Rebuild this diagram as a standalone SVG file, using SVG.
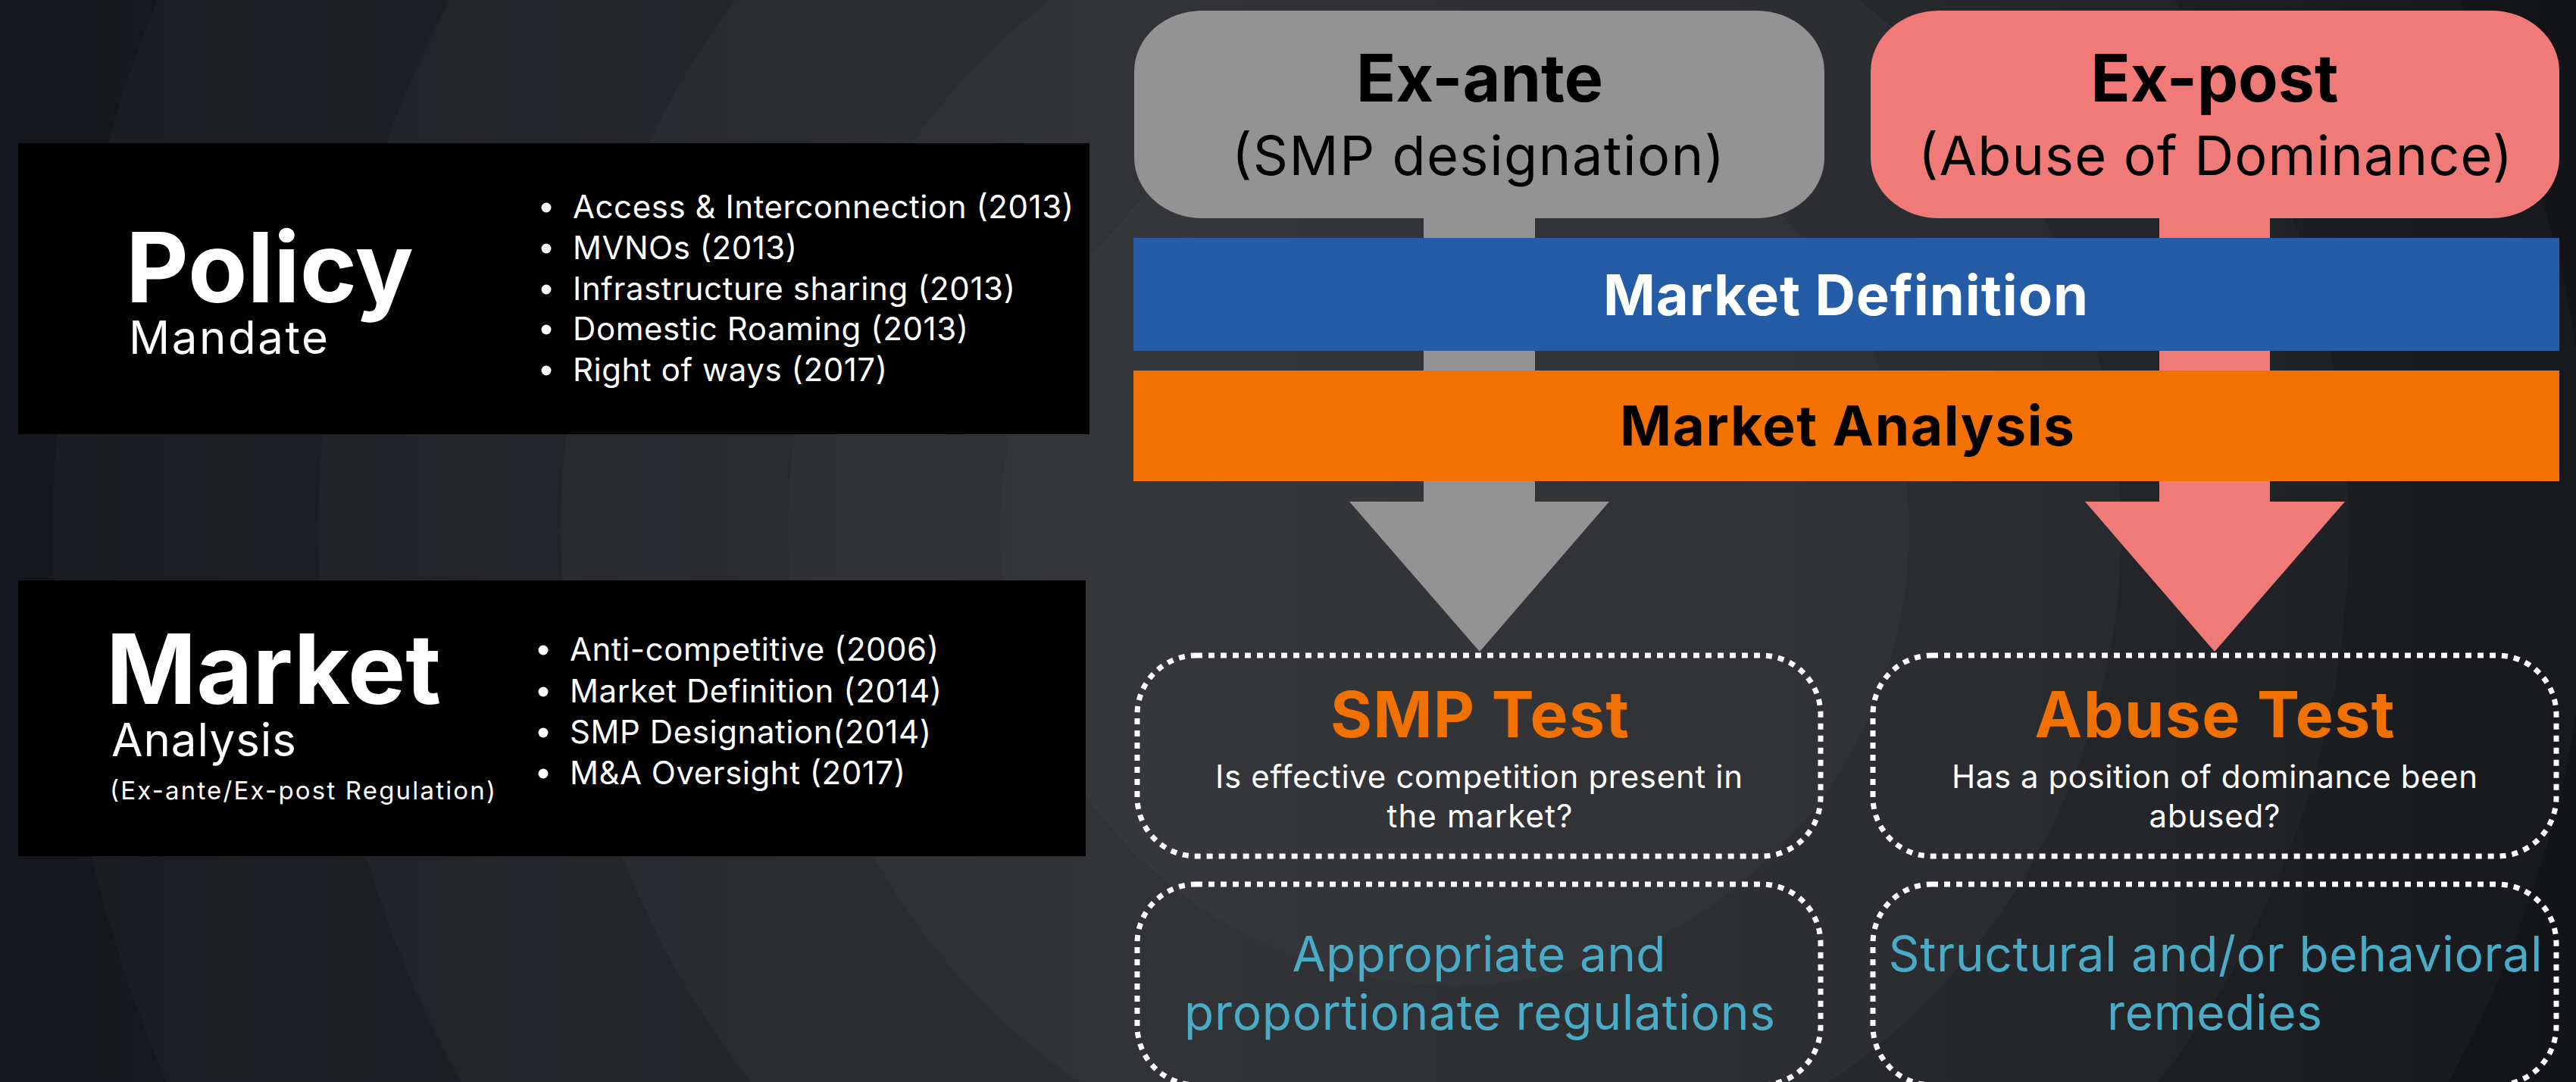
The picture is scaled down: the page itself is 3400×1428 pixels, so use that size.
<svg xmlns="http://www.w3.org/2000/svg" width="3400" height="1428" viewBox="0 0 3400 1428">
  <defs>
    <linearGradient id="bg" x1="0" y1="0" x2="1" y2="0">
      <stop offset="0" stop-color="#14171b"/>
      <stop offset="0.45" stop-color="#1e2024"/>
      <stop offset="0.75" stop-color="#17191d"/>
      <stop offset="1" stop-color="#0d0f12"/>
    </linearGradient>
    <style>
      .inter { font-family: Inter, "Noto Sans", "Liberation Sans", sans-serif; }
      .b { font-weight: 700; }
      .w { fill: #ffffff; }
      .k { fill: #000000; }
      .org { fill: #f07000; }
      .teal { fill: #4aabc7; }
      .mid { text-anchor: middle; }
      .dash { fill: none; stroke: #ffffff; stroke-width: 7; stroke-dasharray: 8 8; }
      .ring { fill: #ffffff; fill-opacity: 0.022; }
    </style>
  </defs>

  <g id="background">
    <rect x="0" y="0" width="3400" height="1428" fill="url(#bg)"/>
    <circle class="ring" cx="1920" cy="700" r="1850"/>
    <circle class="ring" cx="1920" cy="700" r="1500"/>
    <circle class="ring" cx="1920" cy="700" r="1180"/>
    <circle class="ring" cx="1920" cy="700" r="880"/>
    <circle class="ring" cx="1920" cy="700" r="600"/>
  </g>

  <g id="policy-mandate">
    <rect x="24" y="189" width="1414" height="384" fill="#000000"/>
    <text class="inter b w" x="166" y="399" font-size="128">Policy</text>
    <text class="inter w" x="170" y="467" font-size="60" textLength="263" lengthAdjust="spacing">Mandate</text>
    <g fill="#ffffff">
      <circle cx="721" cy="274" r="6.5"/>
      <circle cx="721" cy="328" r="6.5"/>
      <circle cx="721" cy="382" r="6.5"/>
      <circle cx="721" cy="435" r="6.5"/>
      <circle cx="721" cy="489" r="6.5"/>
    </g>
    <g class="inter w" font-size="42">
      <text x="756" y="288" textLength="661" lengthAdjust="spacing">Access &amp; Interconnection (2013)</text>
      <text x="756" y="342" textLength="296" lengthAdjust="spacing">MVNOs (2013)</text>
      <text x="756" y="396" textLength="584" lengthAdjust="spacing">Infrastructure sharing (2013)</text>
      <text x="756" y="449" textLength="522" lengthAdjust="spacing">Domestic Roaming (2013)</text>
      <text x="756" y="503" textLength="415" lengthAdjust="spacing">Right of ways (2017)</text>
    </g>
  </g>

  <g id="market-analysis">
    <rect x="24" y="766" width="1409" height="364" fill="#000000"/>
    <text class="inter b w" x="140" y="929" font-size="128">Market</text>
    <text class="inter w" x="147" y="998" font-size="60" textLength="244" lengthAdjust="spacing">Analysis</text>
    <text class="inter w" x="145" y="1055" font-size="33" textLength="509" lengthAdjust="spacing">(Ex-ante/Ex-post Regulation)</text>
    <g fill="#ffffff">
      <circle cx="717" cy="858" r="6.5"/>
      <circle cx="717" cy="913" r="6.5"/>
      <circle cx="717" cy="967" r="6.5"/>
      <circle cx="717" cy="1021" r="6.5"/>
    </g>
    <g class="inter w" font-size="42">
      <text x="752" y="872" textLength="487" lengthAdjust="spacing">Anti-competitive (2006)</text>
      <text x="752" y="927" textLength="491" lengthAdjust="spacing">Market Definition (2014)</text>
      <text x="752" y="981" textLength="477" lengthAdjust="spacing">SMP Designation(2014)</text>
      <text x="752" y="1035" textLength="443" lengthAdjust="spacing">M&amp;A Oversight (2017)</text>
    </g>
  </g>

  <g id="connectors">
    <polygon id="arrow-exante" fill="#939393" points="1879,270 2026,270 2026,662 2124,662 1953,860 1781,662 1879,662"/>
    <polygon id="arrow-expost" fill="#ef7a78" points="2850,270 2996,270 2996,662 3095,662 2923,860 2752,662 2850,662"/>
  </g>

  <g id="ex-ante">
    <rect x="1497" y="14" width="911" height="274" rx="90" ry="80" fill="#939393"/>
    <text class="inter b k mid" x="1953" y="134" font-size="86">Ex-ante</text>
    <text class="inter k mid" x="1951" y="231" font-size="72" textLength="650" lengthAdjust="spacing">(SMP designation)</text>
  </g>

  <g id="ex-post">
    <rect x="2469" y="14" width="909" height="274" rx="90" ry="80" fill="#ef7a78"/>
    <text class="inter b k mid" x="2923" y="134" font-size="86">Ex-post</text>
    <text class="inter k mid" x="2924" y="231" font-size="72" textLength="784" lengthAdjust="spacing">(Abuse of Dominance)</text>
  </g>

  <g id="market-definition">
    <rect x="1496" y="314" width="1882" height="149" fill="#245da6"/>
    <text class="inter b w mid" x="2436" y="416" font-size="74" textLength="640" lengthAdjust="spacing">Market Definition</text>
  </g>

  <g id="market-analysis-bar">
    <rect x="1496" y="489" width="1882" height="146" fill="#f27100"/>
    <text class="inter b k mid" x="2438" y="588" font-size="73" textLength="600" lengthAdjust="spacing">Market Analysis</text>
  </g>

  <g id="smp-test">
    <rect class="dash" x="1501" y="865" width="902" height="265" rx="78"/>
    <text class="inter b org mid" x="1953" y="973" font-size="84" textLength="394" lengthAdjust="spacing">SMP Test</text>
    <text class="inter w mid" x="1952" y="1040" font-size="42" textLength="696" lengthAdjust="spacing">Is effective competition present in</text>
    <text class="inter w mid" x="1953" y="1092" font-size="42" textLength="245" lengthAdjust="spacing">the market?</text>
  </g>

  <g id="abuse-test">
    <rect class="dash" x="2472" y="865" width="902" height="265" rx="78"/>
    <text class="inter b org mid" x="2923" y="973" font-size="84" textLength="475" lengthAdjust="spacing">Abuse Test</text>
    <text class="inter w mid" x="2923" y="1040" font-size="42" textLength="694" lengthAdjust="spacing">Has a position of dominance been</text>
    <text class="inter w mid" x="2923" y="1092" font-size="42" textLength="173" lengthAdjust="spacing">abused?</text>
  </g>

  <g id="regulations">
    <rect class="dash" x="1501" y="1167" width="902" height="265" rx="78"/>
    <text class="inter teal mid" x="1952" y="1282" font-size="64" textLength="493" lengthAdjust="spacing">Appropriate and</text>
    <text class="inter teal mid" x="1953" y="1359" font-size="64" textLength="780" lengthAdjust="spacing">proportionate regulations</text>
  </g>

  <g id="remedies">
    <rect class="dash" x="2472" y="1167" width="902" height="265" rx="78"/>
    <text class="inter teal mid" x="2924" y="1282" font-size="64" textLength="863" lengthAdjust="spacing">Structural and/or behavioral</text>
    <text class="inter teal mid" x="2923" y="1359" font-size="64" textLength="284" lengthAdjust="spacing">remedies</text>
  </g>
</svg>
